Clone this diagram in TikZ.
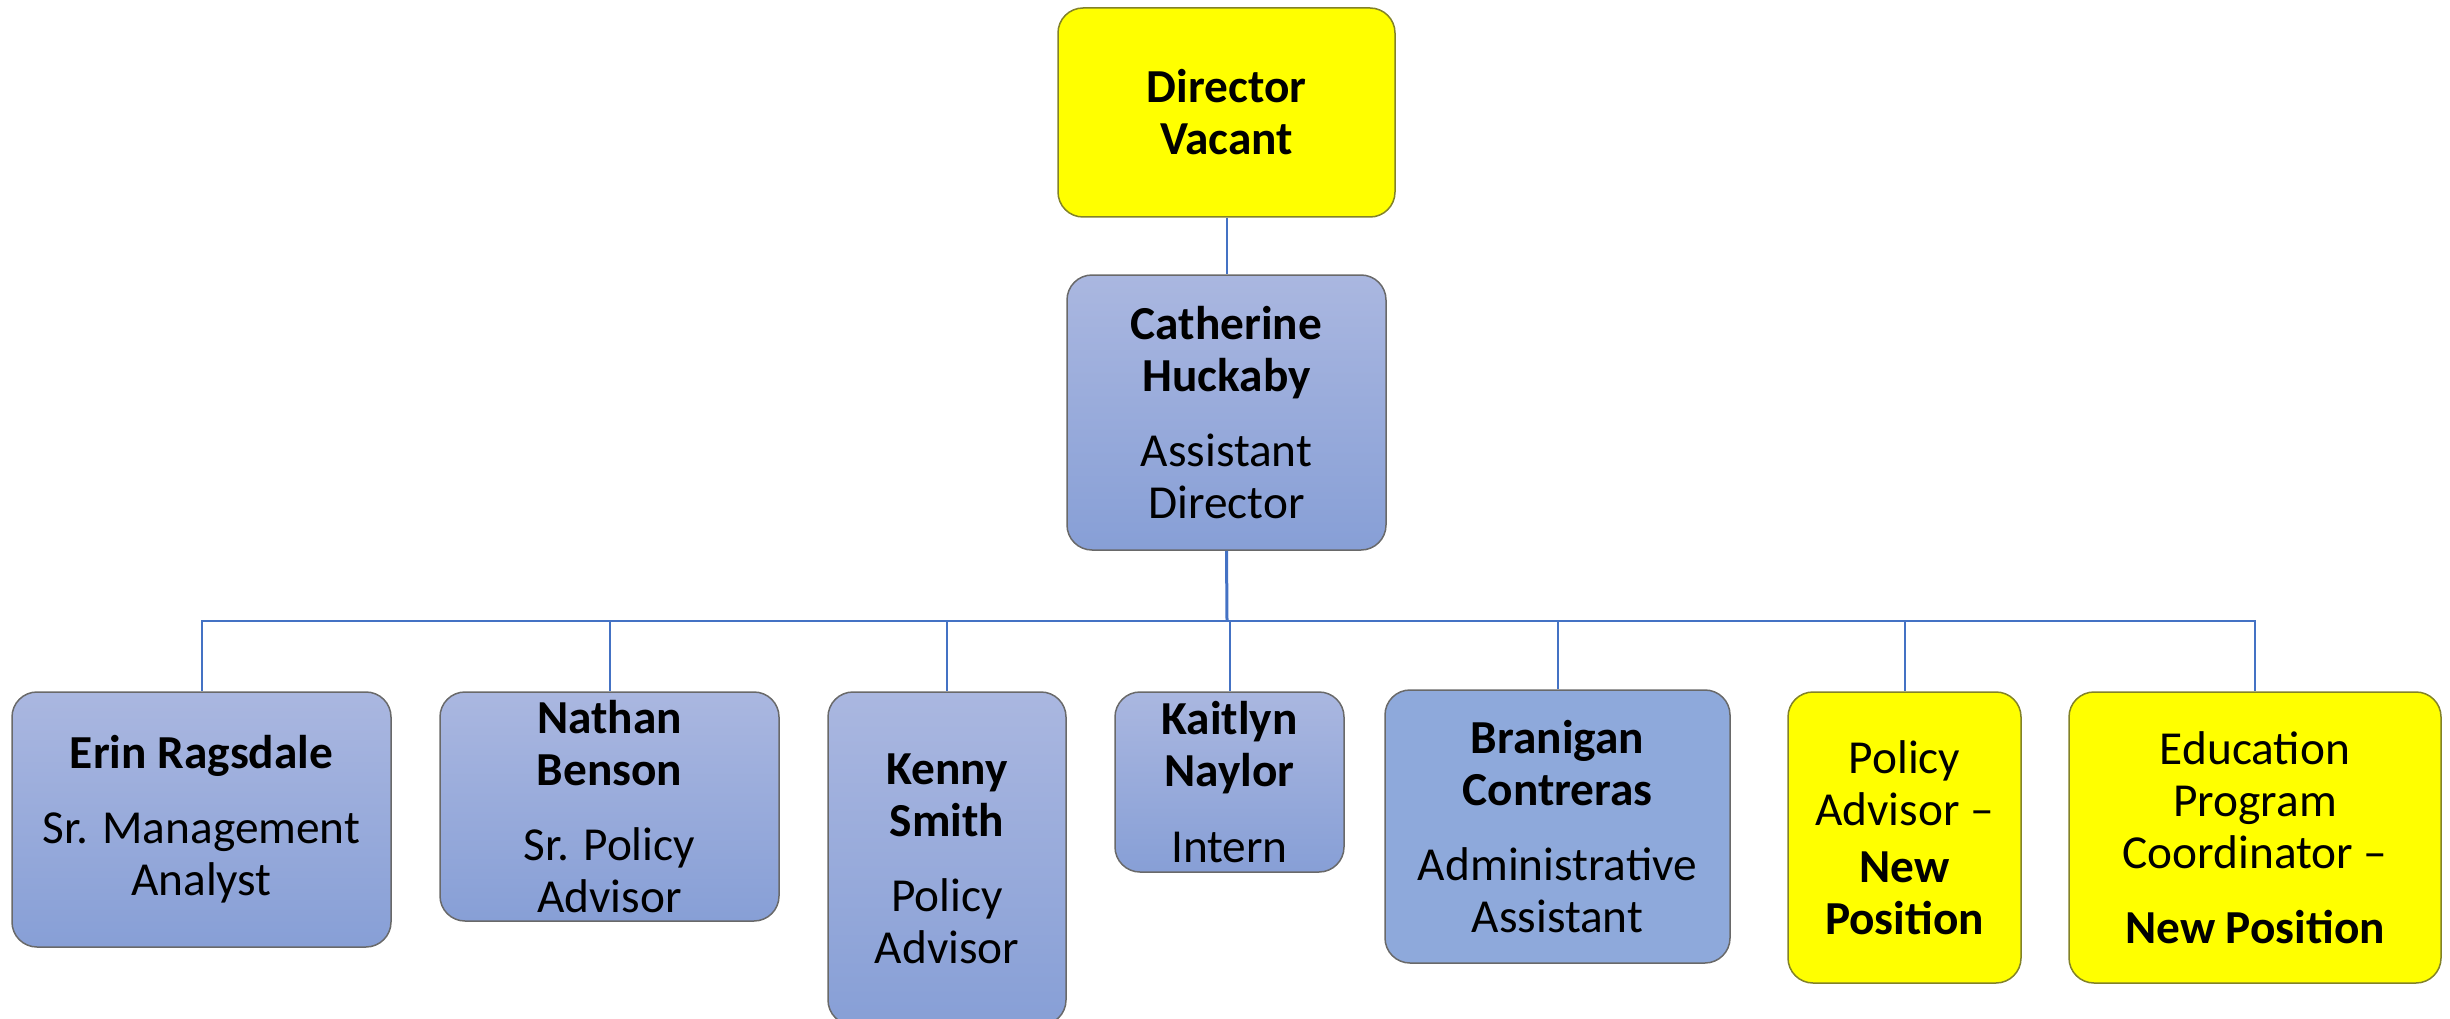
\documentclass[tikz,border=0pt]{standalone}
\usepackage{fontspec}
\setmainfont{Carlito}
\definecolor{topblue}{RGB}{170,183,224}
\definecolor{botblue}{RGB}{135,159,214}
\definecolor{flatblue}{RGB}{142,169,219}
\definecolor{boxline}{RGB}{105,105,105}
\definecolor{yelline}{RGB}{130,130,40}
\definecolor{connblue}{RGB}{68,114,196}
\definecolor{pureyellow}{RGB}{255,255,0}
\tikzset{
  base/.style={rounded corners=7.5pt, inner sep=0pt, align=center, line width=0.45pt,
    font=\fontsize{14.2pt}{15.6pt}\selectfont},
  bluebox/.style={base, draw=boxline, top color=topblue, bottom color=botblue},
  flatbox/.style={base, draw=boxline, fill=flatblue},
  yelbox/.style={base, draw=yelline, fill=pureyellow},
  conn/.style={draw=connblue, line width=0.6pt},
  trunk/.style={draw=connblue, line width=0.9pt}
}
\begin{document}
\begin{tikzpicture}[x=0.3pt,y=-0.3pt]
\useasboundingbox (0,0) rectangle (2450,1019);
\node[yelbox, minimum width=101.1pt, minimum height=62.7pt] (dir) at (1226.5,112.5)
  {\textbf{Director}\\\textbf{Vacant}};
\node[bluebox, minimum width=95.7pt, minimum height=82.5pt] (cat) at (1226.5,412.5)
  {\textbf{Catherine}\\\textbf{Huckaby}\\[7pt]Assistant\\Director};
\node[bluebox, minimum width=113.7pt, minimum height=76.5pt] (erin) at (201.5,819.5)
  {\textbf{Erin Ragsdale}\\[7pt]Sr. Management\\Analyst};
\node[bluebox, minimum width=101.7pt, minimum height=68.7pt] (nathan) at (609.5,806.5)
  {\textbf{Nathan}\\\textbf{Benson}\\[7pt]Sr. Policy\\Advisor};
\node[bluebox, minimum width=71.4pt, minimum height=99.9pt] (kenny) at (947,858.5)
  {\textbf{Kenny}\\\textbf{Smith}\\[7pt]Policy\\Advisor};
\node[bluebox, minimum width=68.7pt, minimum height=54pt] (kait) at (1229.5,782)
  {\textbf{Kaitlyn}\\\textbf{Naylor}\\[7pt]Intern};
\node[flatbox, minimum width=103.5pt, minimum height=81.9pt] (bran) at (1557.5,826.5)
  {\textbf{Branigan}\\\textbf{Contreras}\\[7pt]Administrative\\Assistant};
\node[yelbox, minimum width=69.9pt, minimum height=87.3pt] (pol) at (1904.5,837.5)
  {Policy\\Advisor --\\[1.5pt]\textbf{New}\\\textbf{Position}};
\node[yelbox, minimum width=111.6pt, minimum height=87.3pt] (edu) at (2255,837.5)
  {Education\\Program\\Coordinator --\\[7pt]\textbf{New Position}};
\coordinate (bus) at (1227,621);
\draw[conn] (dir.south) -- (cat.north);
\draw[trunk] (cat.south) -- (bus);
\foreach \n in {erin,nathan,kenny,kait,bran,pol,edu}
  \draw[conn] (bus) -| (\n.north);
\end{tikzpicture}
\end{document}
